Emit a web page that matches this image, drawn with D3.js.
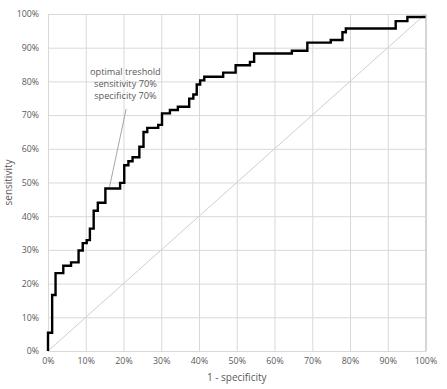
<!DOCTYPE html>
<html>
<head>
<meta charset="utf-8">
<script src="https://cdn.jsdelivr.net/npm/d3@7"></script>
<style>
  body { margin: 0; background: #fff; overflow: hidden; }
  svg { display: block; }
  svg text { font-family: 'Open Sans', sans-serif; fill: #595959; }
</style>
</head>
<body>
<svg width="447" height="389"></svg>
<script>
// ROC curve corners: at fpr[i] the curve rises to tpr[i] (percent)
const fpr = [0, 0, 1.1, 2.0, 4.05, 6.1, 8.1, 9.2, 10.25, 11.1, 12.1, 13.2, 15.2, 19.1, 20.2, 21.3, 22.4, 24.2, 25.3, 26.3,
  29.2, 30.2, 32.3, 34.4, 37.4, 38.5, 39.4, 40.3, 41.4, 46.4, 49.7, 53.5, 54.6, 64.6, 68.7, 74.9, 78.0, 78.9, 92.1, 95.2, 100];
const tpr = [0, 5.4, 16.6, 23.1, 25.3, 26.3, 29.8, 32.0, 32.9, 36.3, 41.6, 44.0, 48.2, 49.9, 55.1, 56.3, 57.5, 60.6, 65.0, 66.2,
  67.1, 70.5, 71.5, 72.5, 74.9, 76.1, 79.1, 80.3, 81.4, 82.6, 84.8, 85.8, 88.3, 89.1, 91.5, 92.3, 94.6, 95.7, 97.9, 99.1, 99.1];
const ticks = [0, 10, 20, 30, 40, 50, 60, 70, 80, 90, 100];
const annotation = ['optimal treshold', 'sensitivity 70%', 'specificity 70%'];
const optimal = {fpr: 15.2, tpr: 48.2};

const svg = d3.select('svg');
const margin = {top: 14, right: 21.5, bottom: 38, left: 48};
const width = +svg.attr('width');
const height = +svg.attr('height');
const innerWidth = width - margin.left - margin.right;
const innerHeight = height - margin.top - margin.bottom;

const xScale = d3.scaleLinear().domain([0, 100]).range([0, innerWidth]);
const yScale = d3.scaleLinear().domain([0, 100]).range([innerHeight, 0]);

const g = svg.append('g')
  .attr('transform', `translate(${margin.left},${margin.top})`);

const fmt = d => d + '%';

const xAxisG = g.append('g')
  .attr('transform', `translate(0,${innerHeight})`)
  .call(d3.axisBottom(xScale).tickValues(ticks).tickFormat(fmt).tickSize(-innerHeight).tickPadding(7));
xAxisG.select('.domain').attr('stroke', '#bfbfbf');
xAxisG.selectAll('.tick line').attr('stroke', '#d9d9d9');

const yAxisG = g.append('g')
  .call(d3.axisLeft(yScale).tickValues(ticks).tickFormat(fmt).tickSize(-innerWidth).tickPadding(9));
yAxisG.select('.domain').attr('stroke', '#d9d9d9');
yAxisG.selectAll('.tick line').attr('stroke', '#d9d9d9');

svg.selectAll('.tick text')
  .attr('font-family', 'Open Sans, sans-serif')
  .attr('font-size', 8.8)
  .attr('fill', '#595959');
xAxisG.select('.domain').raise();

// reference diagonal
g.append('line')
  .attr('x1', xScale(0)).attr('y1', yScale(0))
  .attr('x2', xScale(100)).attr('y2', yScale(100))
  .attr('stroke', '#cfcfcf')
  .attr('stroke-width', 1);

// ROC curve
const points = fpr.map((f, i) => [f, tpr[i]]);
g.append('path')
  .datum(points)
  .attr('fill', 'none')
  .attr('stroke', '#000')
  .attr('stroke-width', 2.4)
  .attr('d', d3.line().x(d => xScale(d[0])).y(d => yScale(d[1])).curve(d3.curveStepAfter));

// annotation
g.append('line')
  .attr('x1', xScale(20.7)).attr('y1', yScale(71.8))
  .attr('x2', xScale(16.3)).attr('y2', yScale(optimal.tpr + 0.5))
  .attr('stroke', '#a6a6a6')
  .attr('stroke-width', 1);

g.append('g').selectAll('text').data(annotation)
  .enter().append('text')
    .attr('x', xScale(20.5))
    .attr('y', (d, i) => yScale(82) + i * 12.2)
    .attr('text-anchor', 'middle')
    .attr('font-size', 9.2)
    .text(d => d);

// axis titles
svg.append('text')
  .attr('x', margin.left + innerWidth / 2)
  .attr('y', 381)
  .attr('text-anchor', 'middle')
  .attr('font-size', 10)
  .text('1 - specificity');

svg.append('text')
  .attr('transform', `translate(12,${margin.top + innerHeight / 2}) rotate(-90)`)
  .attr('text-anchor', 'middle')
  .attr('font-size', 10)
  .text('sensitivity');
</script>
</body>
</html>
